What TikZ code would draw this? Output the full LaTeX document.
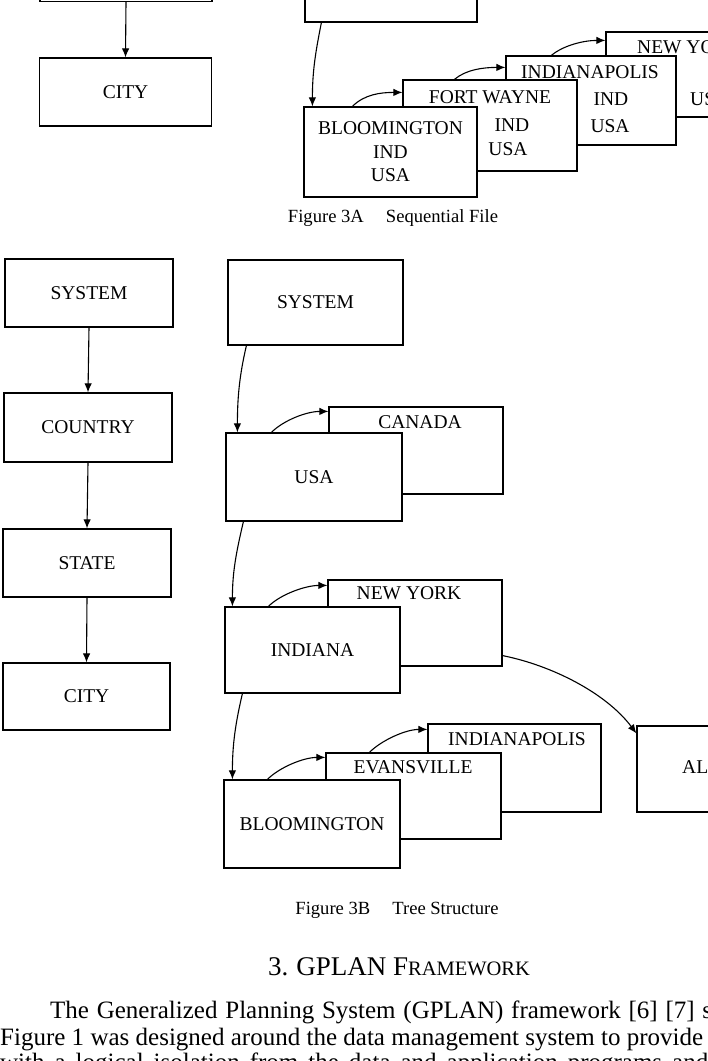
\documentclass[tikz,border=0pt]{standalone}
\usepackage{fontspec}
\setmainfont{Liberation Serif}
\usetikzlibrary{calc,arrows.meta}
\begin{document}
\begin{tikzpicture}[x=1pt,y=-1pt,
  box/.style={draw,line width=1.2pt,fill=white,inner sep=0pt,align=center,
    font=\fontsize{19.5}{23.5}\selectfont},
  wh/.style 2 args={minimum width=#1pt,minimum height=#2pt},
  lbl/.style={inner sep=0pt,font=\fontsize{19.5}{23.5}\selectfont},
  arr/.style={line width=1.1pt,-{Latex[length=9pt,width=7.5pt]}},
  captext/.style={inner sep=0pt,font=\fontsize{18.6}{20}\selectfont},
  para/.style={inner sep=0pt,font=\fontsize{25}{25}\selectfont},
]
\useasboundingbox (0,0) rectangle (708,1061);
\clip (0,0) rectangle (708,1061);

% ---------------- Figure 3A ----------------
\node[box,wh={172}{68}] (topA) at (126,-32.5) {};
\node[box,wh={172}{68}] (cityA) at (125.5,92) {CITY};
\node[box,wh={172}{84}] (sysA) at (391,-20) {};

\node[box,wh={172}{85}] (nyA) at (692,74.5) {};
\node[lbl,anchor=west] (nyAt) at (637,47) {NEW YORK};
\node[lbl,anchor=west] (nyAu) at (690,99) {USA};

\node[box,wh={170}{89}] (indyA) at (591,100.5) {};
\node[lbl] (indyAt) at (590,72) {INDIANAPOLIS};
\node[lbl] (indyAi) at (611,99) {IND};
\node[lbl] (indyAu) at (610,126) {USA};

\node[box,wh={174}{91}] (fwA) at (490,125.5) {};
\node[lbl] (fwAt) at (490,97) {FORT WAYNE};
\node[lbl] (fwAi) at (512,125) {IND};
\node[lbl] (fwAu) at (508,149) {USA};

\node[box,wh={173}{90}] (bloA) at (390.5,152) {BLOOMINGTON\\IND\\USA};

\node[captext] (capA) at (393,218) {Figure 3A\hspace{22pt}Sequential File};

\draw[arr] (topA.south) -- (cityA.north);
\draw[arr] ($(sysA.south west)+(17,0)$) .. controls +(-6,30) and +(0,-35) .. ($(bloA.north west)+(9,0)$);
\draw[arr] ($(bloA.north west)+(49,0)$) .. controls +(12,-12) and +(-22,0) .. ($(fwA.north west)+(0,13)$);
\draw[arr] ($(fwA.north west)+(52,0)$) .. controls +(12,-10) and +(-22,0) .. ($(indyA.north west)+(0,12)$);
\draw[arr] ($(indyA.north west)+(46,0)$) .. controls +(12,-10) and +(-22,0) .. ($(nyA.north west)+(0,9)$);

% ---------------- Figure 3B ----------------
\node[box,wh={168}{68}] (sysL) at (89,293) {SYSTEM};
\node[box,wh={168}{69}] (ctryL) at (88,427.5) {COUNTRY};
\node[box,wh={168}{68}] (stateL) at (87,563) {STATE};
\node[box,wh={167}{67}] (cityL) at (86.5,696.5) {CITY};
\draw[arr] (sysL.south) -- (ctryL.north);
\draw[arr] (ctryL.south) -- (stateL.north);
\draw[arr] (stateL.south) -- (cityL.north);

\node[box,wh={175}{85}] (sysR) at (315.5,302.5) {SYSTEM};

\node[box,wh={174}{87}] (canada) at (416,450.5) {};
\node[lbl] (canadat) at (420,422) {CANADA};
\node[box,wh={176}{88}] (usa) at (314,477) {USA};

\node[box,wh={174}{86}] (nyB) at (415,623) {};
\node[lbl] (nyBt) at (409,593) {NEW YORK};
\node[box,wh={175}{86}] (indiana) at (312.5,650) {INDIANA};

\node[box,wh={174}{86}] (al) at (724,769) {};
\node[lbl,anchor=west] (alt) at (682,767) {AL};

\node[box,wh={173}{88}] (indyB) at (514.5,768) {};
\node[lbl] (indyBt) at (517,739) {INDIANAPOLIS};
\node[box,wh={175}{86}] (evans) at (413.5,796) {};
\node[lbl] (evanst) at (413,767) {EVANSVILLE};
\node[box,wh={176}{88}] (bloB) at (312,824) {BLOOMINGTON};

\draw[arr] ($(sysR.south west)+(19,0)$) .. controls +(-7,30) and +(0,-35) .. ($(usa.north west)+(12,0)$);
\draw[arr] ($(usa.north west)+(46,0)$) .. controls +(12,-12) and +(-22,0) .. ($(canada.north west)+(0,5)$);
\draw[arr] ($(usa.south west)+(18,0)$) .. controls +(-7,30) and +(0,-35) .. ($(indiana.north west)+(8,0)$);
\draw[arr] ($(indiana.north west)+(44,0)$) .. controls +(12,-12) and +(-22,0) .. ($(nyB.north west)+(0,6)$);
\draw[arr] ($(indiana.south west)+(18,0)$) .. controls +(-7,30) and +(0,-35) .. ($(bloB.north west)+(9,0)$);
\draw[arr] ($(bloB.north west)+(44,0)$) .. controls +(12,-12) and +(-22,0) .. ($(evans.north west)+(0,5)$);
\draw[arr] ($(evans.north west)+(44,0)$) .. controls +(12,-12) and +(-22,0) .. ($(indyB.north west)+(0,6)$);
\draw[arr] ($(nyB.south east)+(0,-11)$) .. controls +(50,10) and +(-30,-40) .. ($(al.north west)+(0,8)$);

\node[captext] (capB) at (397,910) {Figure 3B\hspace{22pt}Tree Structure};

% ---------------- text ----------------
\node[inner sep=0pt,font=\fontsize{27}{27}\selectfont] (head) at (399,967)
  {3.\hspace{8pt}GPLAN F{\fontsize{20.5}{20.5}\selectfont RAMEWORK}};
\node[para,anchor=base west] (p1) at (50,1018)
  {\makebox[662pt][s]{The Generalized Planning System (GPLAN) framework [6] [7] s}};
\node[para,anchor=base west] (p2) at (0,1045)
  {\makebox[703pt][s]{Figure 1 was designed around the data management system to provide}};
\node[para,anchor=base west] (p3) at (0,1070)
  {\makebox[708pt][s]{with a logical isolation from the data and application programs and}};
\end{tikzpicture}
\end{document}
